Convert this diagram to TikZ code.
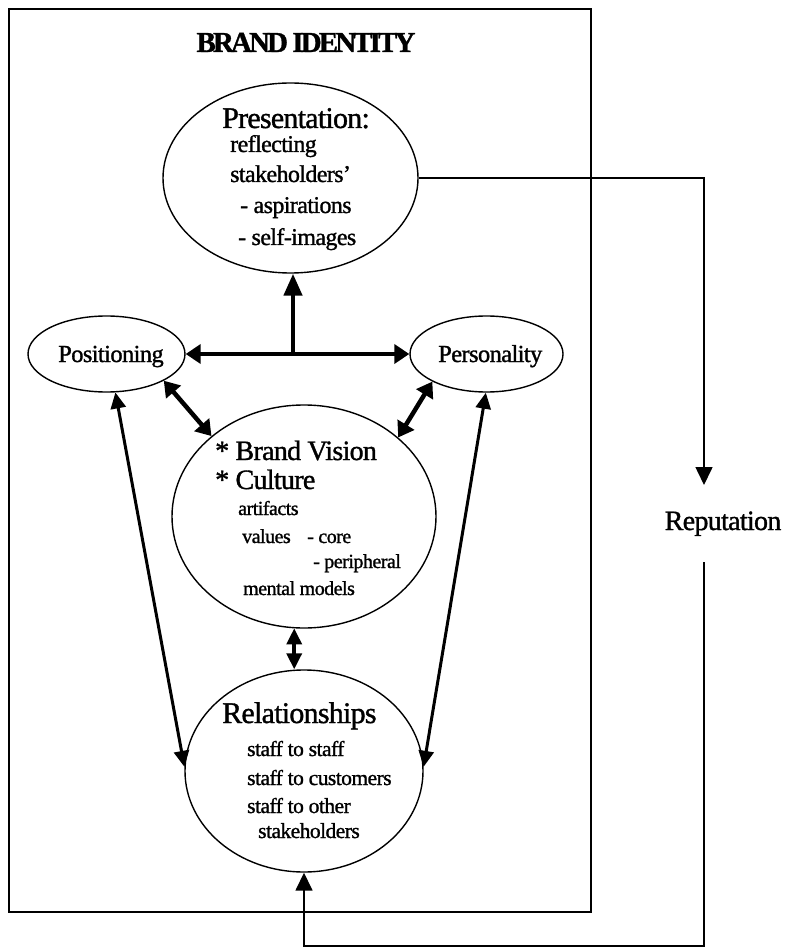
\documentclass[tikz,border=0pt]{standalone}
\usepackage{fontspec}
\setmainfont{Liberation Serif}[RawFeature={embolden=1.2}, LetterSpace=-2.5]
\usetikzlibrary{shapes.geometric}
\usetikzlibrary{arrows.meta}

\newcommand{\fsz}[1]{\fontsize{#1}{#1}\selectfont}

\begin{document}
\begin{tikzpicture}
	[	x=1pt, y=-1pt,				% единица = пиксель, ось y вниз
		oval/.style={draw, ellipse, line width=1.4pt, inner sep=0pt},	% овалы
		heavy/.style={line width=4.5pt, {Triangle[length=15pt,width=19pt]}-{Triangle[length=15pt,width=19pt]}},
		light/.style={line width=3pt, {Triangle[length=16pt,width=15pt]}-{Triangle[length=16pt,width=15pt]}},
		feed/.style={line width=1.6pt, -{Triangle[length=18pt,width=17pt]}}	]
	\useasboundingbox (0,0) rectangle (789,949);
	\draw[line width=1.5pt] (9,9) rectangle (591,912);		% рамка
	\node[anchor=base] (title) at (306,52) {\fsz{29}\bfseries\addfontfeature{LetterSpace=-10}BRAND IDENTITY};
	\node[oval, minimum width=255, minimum height=190] (pres) at (290.5,178) {};
	\node[oval, minimum width=157, minimum height=76] (posit) at (106.5,354) {};
	\node[oval, minimum width=153, minimum height=76] (pers) at (486.5,354) {};
	\node[oval, minimum width=264, minimum height=223] (cult) at (304,516.5) {};
	\node[oval, minimum width=238, minimum height=202] (rel) at (304,771) {};
	\node[anchor=base] (rep) at (723,530) {\fsz{28}Reputation};
	\foreach \x/\y/\s/\t [count=\i] in {222/128/30/Presentation:, 230/152/24/reflecting,
			230/182/24/stakeholders', 240/213/24/- aspirations, 238/245/24/- self-images,
			58/362/24.5/Positioning, 438/362/24.5/Personality,
			215/460/28/* Brand Vision, 215/489/28/* Culture, 238/515/20/artifacts,
			242/543/20/values, 307/543/20/- core, 313/568/20/- peripheral, 243/595/20/mental models,
			222/723/30/Relationships, 247/756/21.5/staff to staff, 247/785/21.5/staff to customers,
			247/813/21.5/staff to other, 258/838/21.5/stakeholders}
		\node[anchor=base west, inner sep=0pt] (txt\i) at (\x,\y) {\fsz{\s}\t};		% строки текста
	\coordinate (jn) at (293,354);
	\draw[heavy] (posit.east) -- (pers.west);
	\draw[heavy, -{Triangle[length=22pt,width=18pt]}] (jn) -- (jn |- pres.south);
	\draw[heavy] (posit.-25) -- (cult.139);
	\draw[heavy] (pers.207) -- (cult.40);
	\draw[light] (posit.-77) -- (rel.178);
	\draw[light] (pers.269) -- (rel.2);
	\draw[light, line width=3.5pt] (cult.265) -- (cult.265 |- rel.north);
	\coordinate (rin) at (704,485);			% вход в репутацию
	\coordinate (rout) at (704,562);		% выход из репутации
	\coordinate (bot) at (704,946);
	\draw[feed] (pres.east) -| (rin);
	\draw[feed] (rout) -- (bot) -| (rel.south);
\end{tikzpicture}
\end{document}
